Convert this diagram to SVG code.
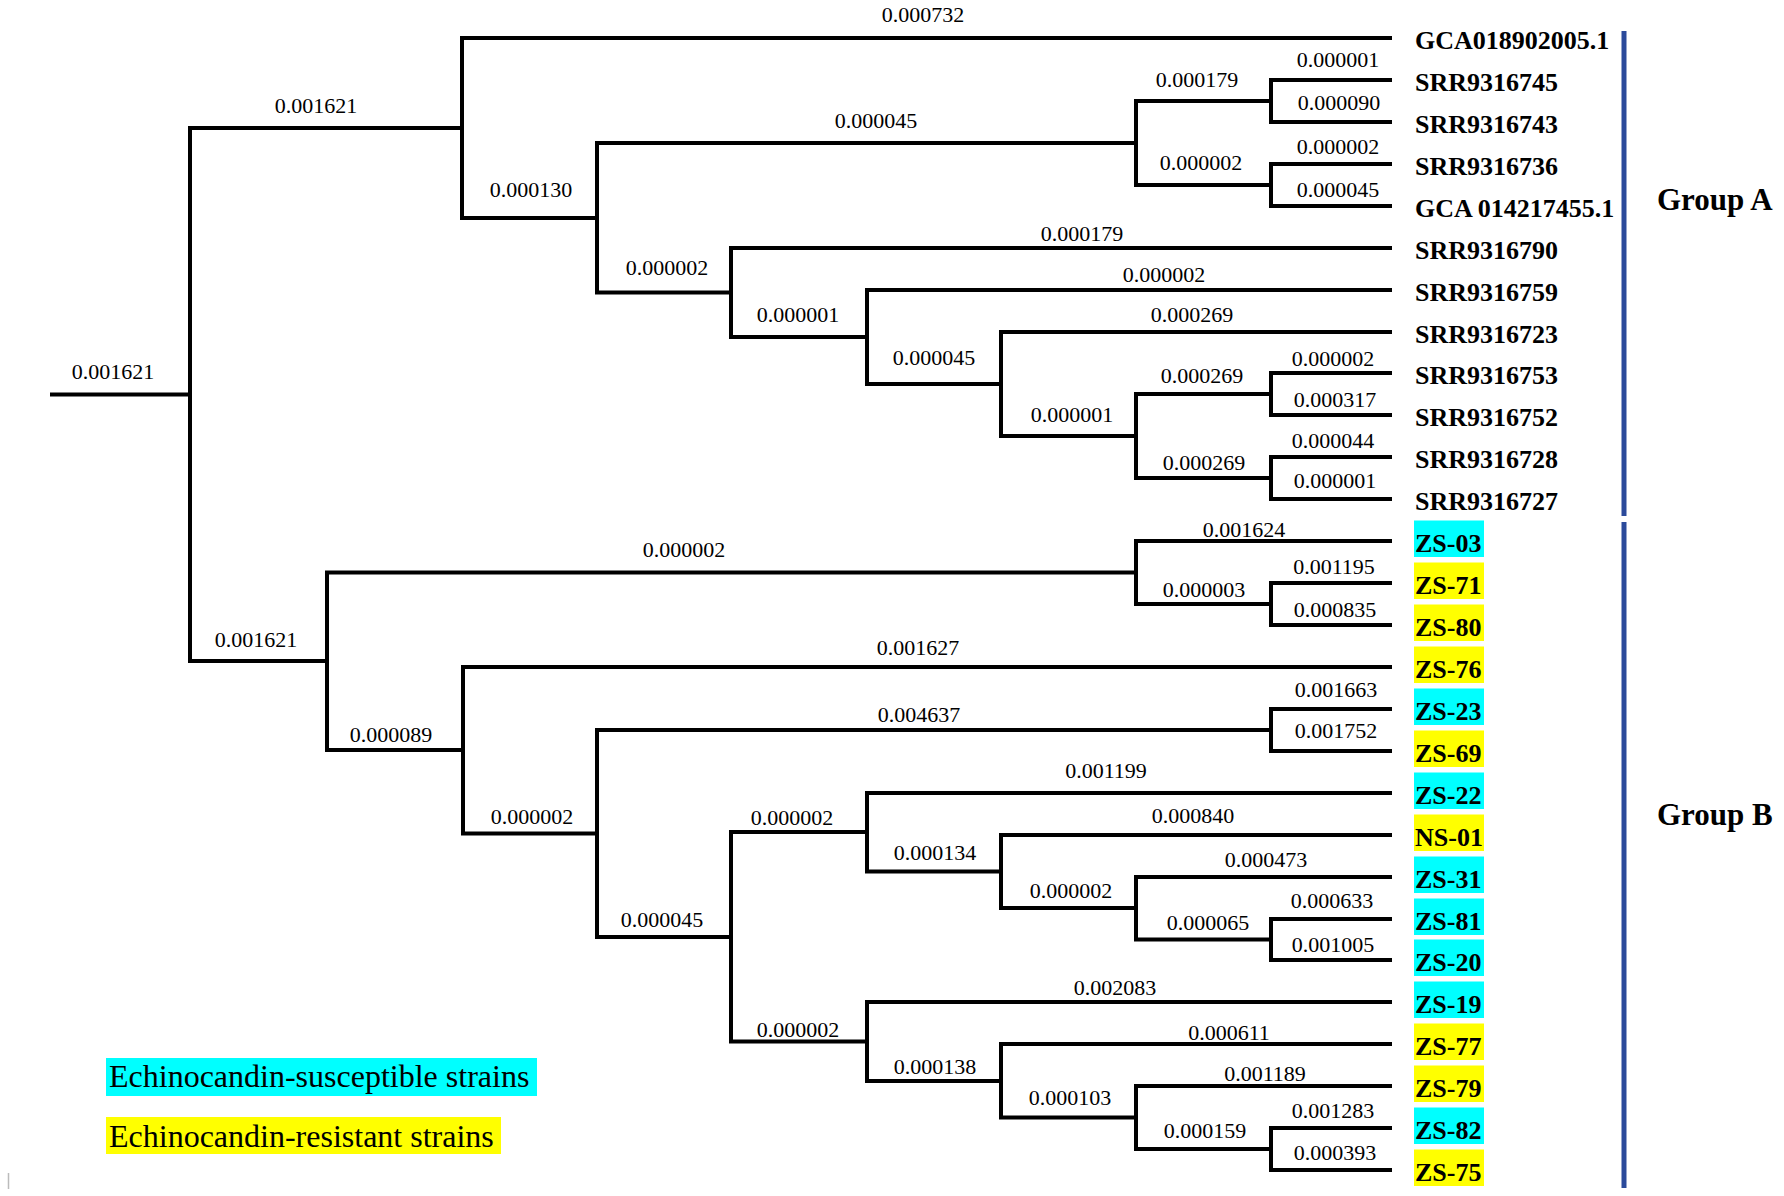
<svg xmlns="http://www.w3.org/2000/svg" width="1784" height="1196" viewBox="0 0 1784 1196">
<style>
.br{fill:none;stroke:#000;stroke-width:4;stroke-linecap:square;stroke-linejoin:miter}
.bl{font-family:"Liberation Serif","Times New Roman",serif;font-size:22px;fill:#000;text-anchor:middle}
.lf{font-family:"Liberation Serif","Times New Roman",serif;font-size:26px;font-weight:bold;fill:#000}
.grp{font-family:"Liberation Serif","Times New Roman",serif;font-size:31px;font-weight:bold;fill:#000}
.lg{font-family:"Liberation Serif","Times New Roman",serif;font-size:32px;fill:#000}
.cy{fill:#00FFFF}
.ye{fill:#FFFF00}
.bar{stroke:#2B4A9B;stroke-width:5;fill:none}
</style>
<rect width="1784" height="1196" fill="#fff"/>
<g id="connectors">
<path class="br" d="M52 394.5 H190"/>
<path class="br" d="M462 128 H190 V661 H327"/>
<path class="br" d="M1390 38 H462 V218 H597"/>
<path class="br" d="M1136 143 H597 V292.5 H731"/>
<path class="br" d="M1271 101 H1136 V185 H1271"/>
<path class="br" d="M1390 80 H1271 V122 H1390"/>
<path class="br" d="M1390 164 H1271 V206 H1390"/>
<path class="br" d="M1390 248 H731 V337 H867"/>
<path class="br" d="M1390 290 H867 V384 H1001"/>
<path class="br" d="M1390 332 H1001 V436 H1136"/>
<path class="br" d="M1271 394 H1136 V478 H1271"/>
<path class="br" d="M1390 373 H1271 V415 H1390"/>
<path class="br" d="M1390 457 H1271 V499 H1390"/>
<path class="br" d="M1136 572.5 H327 V750 H463"/>
<path class="br" d="M1390 541 H1136 V604 H1271"/>
<path class="br" d="M1390 583 H1271 V625 H1390"/>
<path class="br" d="M1390 667 H463 V833.5 H597"/>
<path class="br" d="M1271 730 H597 V937 H731"/>
<path class="br" d="M1390 709 H1271 V751 H1390"/>
<path class="br" d="M867 832 H731 V1041.5 H867"/>
<path class="br" d="M1390 793 H867 V871.5 H1001"/>
<path class="br" d="M1390 835 H1001 V908 H1136"/>
<path class="br" d="M1390 877 H1136 V939.5 H1271"/>
<path class="br" d="M1390 919 H1271 V960 H1390"/>
<path class="br" d="M1390 1002 H867 V1081 H1001"/>
<path class="br" d="M1390 1044 H1001 V1117.5 H1136"/>
<path class="br" d="M1390 1086 H1136 V1149 H1271"/>
<path class="br" d="M1390 1128 H1271 V1170 H1390"/>
</g>
<g id="branch-labels" class="bl">
<text x="113" y="379">0.001621</text>
<text x="316" y="113">0.001621</text>
<text x="923" y="22">0.000732</text>
<text x="531" y="197">0.000130</text>
<text x="876" y="128">0.000045</text>
<text x="1197" y="87">0.000179</text>
<text x="1201" y="170">0.000002</text>
<text x="1338" y="67">0.000001</text>
<text x="1339" y="110">0.000090</text>
<text x="1338" y="154">0.000002</text>
<text x="1338" y="197">0.000045</text>
<text x="667" y="275">0.000002</text>
<text x="1082" y="241">0.000179</text>
<text x="798" y="322">0.000001</text>
<text x="1164" y="282">0.000002</text>
<text x="934" y="365">0.000045</text>
<text x="1192" y="322">0.000269</text>
<text x="1072" y="422">0.000001</text>
<text x="1202" y="383">0.000269</text>
<text x="1333" y="366">0.000002</text>
<text x="1335" y="407">0.000317</text>
<text x="1204" y="470">0.000269</text>
<text x="1333" y="448">0.000044</text>
<text x="1335" y="488">0.000001</text>
<text x="256" y="647">0.001621</text>
<text x="684" y="557">0.000002</text>
<text x="1244" y="537">0.001624</text>
<text x="1204" y="597">0.000003</text>
<text x="1334" y="574">0.001195</text>
<text x="1335" y="617">0.000835</text>
<text x="391" y="742">0.000089</text>
<text x="918" y="655">0.001627</text>
<text x="532" y="824">0.000002</text>
<text x="919" y="722">0.004637</text>
<text x="1336" y="697">0.001663</text>
<text x="1336" y="738">0.001752</text>
<text x="662" y="927">0.000045</text>
<text x="792" y="825">0.000002</text>
<text x="1106" y="778">0.001199</text>
<text x="935" y="860">0.000134</text>
<text x="1193" y="823">0.000840</text>
<text x="1071" y="898">0.000002</text>
<text x="1266" y="867">0.000473</text>
<text x="1208" y="930">0.000065</text>
<text x="1332" y="908">0.000633</text>
<text x="1333" y="952">0.001005</text>
<text x="798" y="1037">0.000002</text>
<text x="1115" y="995">0.002083</text>
<text x="935" y="1074">0.000138</text>
<text x="1229" y="1040">0.000611</text>
<text x="1070" y="1105">0.000103</text>
<text x="1265" y="1081">0.001189</text>
<text x="1205" y="1138">0.000159</text>
<text x="1333" y="1118">0.001283</text>
<text x="1335" y="1160">0.000393</text>
</g>
<g id="leaf-GCA018902005" class="lf"><text x="1415" y="49">GCA018902005.1</text></g>
<g id="leaf-SRR9316745" class="lf"><text x="1415" y="91">SRR9316745</text></g>
<g id="leaf-SRR9316743" class="lf"><text x="1415" y="133">SRR9316743</text></g>
<g id="leaf-SRR9316736" class="lf"><text x="1415" y="175">SRR9316736</text></g>
<g id="leaf-GCA014217455" class="lf"><text x="1415" y="217">GCA 014217455.1</text></g>
<g id="leaf-SRR9316790" class="lf"><text x="1415" y="259">SRR9316790</text></g>
<g id="leaf-SRR9316759" class="lf"><text x="1415" y="301">SRR9316759</text></g>
<g id="leaf-SRR9316723" class="lf"><text x="1415" y="343">SRR9316723</text></g>
<g id="leaf-SRR9316753" class="lf"><text x="1415" y="384">SRR9316753</text></g>
<g id="leaf-SRR9316752" class="lf"><text x="1415" y="426">SRR9316752</text></g>
<g id="leaf-SRR9316728" class="lf"><text x="1415" y="468">SRR9316728</text></g>
<g id="leaf-SRR9316727" class="lf"><text x="1415" y="510">SRR9316727</text></g>
<g id="leaf-ZS-03"><rect class="cy" x="1414" y="520.5" width="70" height="36.5"/><text class="lf" x="1415" y="552">ZS-03</text></g>
<g id="leaf-ZS-71"><rect class="ye" x="1414" y="562.5" width="70" height="36.5"/><text class="lf" x="1415" y="594">ZS-71</text></g>
<g id="leaf-ZS-80"><rect class="ye" x="1414" y="604.5" width="70" height="36.5"/><text class="lf" x="1415" y="636">ZS-80</text></g>
<g id="leaf-ZS-76"><rect class="ye" x="1414" y="646.5" width="70" height="36.5"/><text class="lf" x="1415" y="678">ZS-76</text></g>
<g id="leaf-ZS-23"><rect class="cy" x="1414" y="688.5" width="70" height="36.5"/><text class="lf" x="1415" y="720">ZS-23</text></g>
<g id="leaf-ZS-69"><rect class="ye" x="1414" y="730.5" width="70" height="36.5"/><text class="lf" x="1415" y="762">ZS-69</text></g>
<g id="leaf-ZS-22"><rect class="cy" x="1414" y="772.5" width="70" height="36.5"/><text class="lf" x="1415" y="804">ZS-22</text></g>
<g id="leaf-NS-01"><rect class="ye" x="1414" y="814.5" width="70" height="36.5"/><text class="lf" x="1415" y="846">NS-01</text></g>
<g id="leaf-ZS-31"><rect class="cy" x="1414" y="856.5" width="70" height="36.5"/><text class="lf" x="1415" y="888">ZS-31</text></g>
<g id="leaf-ZS-81"><rect class="cy" x="1414" y="898.5" width="70" height="36.5"/><text class="lf" x="1415" y="930">ZS-81</text></g>
<g id="leaf-ZS-20"><rect class="cy" x="1414" y="939.5" width="70" height="36.5"/><text class="lf" x="1415" y="971">ZS-20</text></g>
<g id="leaf-ZS-19"><rect class="cy" x="1414" y="981.5" width="70" height="36.5"/><text class="lf" x="1415" y="1013">ZS-19</text></g>
<g id="leaf-ZS-77"><rect class="ye" x="1414" y="1023.5" width="70" height="36.5"/><text class="lf" x="1415" y="1055">ZS-77</text></g>
<g id="leaf-ZS-79"><rect class="ye" x="1414" y="1065.5" width="70" height="36.5"/><text class="lf" x="1415" y="1097">ZS-79</text></g>
<g id="leaf-ZS-82"><rect class="cy" x="1414" y="1107.5" width="70" height="36.5"/><text class="lf" x="1415" y="1139">ZS-82</text></g>
<g id="leaf-ZS-75"><rect class="ye" x="1414" y="1149.5" width="70" height="36.5"/><text class="lf" x="1415" y="1181">ZS-75</text></g>
<g id="group-A"><line class="bar" x1="1624" y1="31" x2="1624" y2="516"/><text class="grp" x="1657" y="210">Group A</text></g>
<g id="group-B"><line class="bar" x1="1624" y1="522" x2="1624" y2="1188"/><text class="grp" x="1657" y="825">Group B</text></g>
<g id="legend">
<rect class="cy" x="106" y="1058" width="431" height="38"/>
<text class="lg" x="109" y="1087">Echinocandin-susceptible strains</text>
<rect class="ye" x="106" y="1117" width="395" height="37"/>
<text class="lg" x="109" y="1147">Echinocandin-resistant strains</text>
</g>
<line x1="8.5" y1="1173" x2="8.5" y2="1189" stroke="#bbb" stroke-width="1.5"/>
</svg>
